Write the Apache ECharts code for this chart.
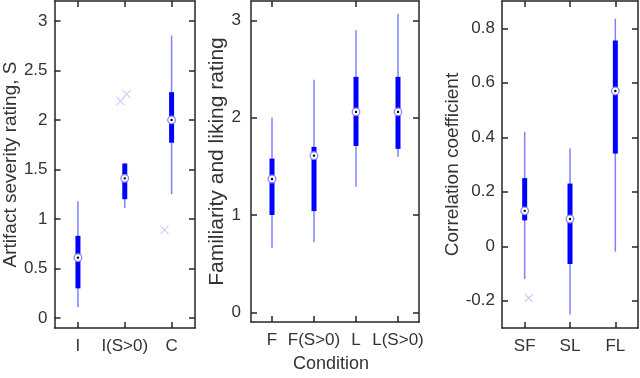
<!DOCTYPE html>
<html lang="en">
<head>
    <meta charset="UTF-8">
    <title>Boxplots</title>
    <script src="https://cdn.jsdelivr.net/npm/echarts@6/dist/echarts.min.js"></script>
    <style>
        html, body { margin: 0; padding: 0; background: #fff; }
    </style>
</head>
<body>
    <div id="myCharts" style="width: 640px;height:378px;"></div>

    <script type="text/javascript">
        // panel 1: artifact severity
        var cats1 = ['I', 'I(S>0)', 'C']
        var low1 = [0.11, 1.11, 1.25]
        var q1a = [0.30, 1.20, 1.77]
        var med1 = [0.61, 1.41, 2.00]
        var q3a = [0.83, 1.56, 2.28]
        var high1 = [1.18, 1.56, 2.85]
        var out1 = [[0.91, 2.19], [1.04, 2.26], [1.85, 0.89]]
        var ticks1 = [0, 0.5, 1, 1.5, 2, 2.5, 3]

        // panel 2: familiarity / liking
        var cats2 = ['F', 'F(S>0)', 'L', 'L(S>0)']
        var low2 = [0.66, 0.72, 1.29, 1.60]
        var q1b = [1.00, 1.04, 1.71, 1.68]
        var med2 = [1.37, 1.61, 2.06, 2.06]
        var q3b = [1.58, 1.70, 2.42, 2.42]
        var high2 = [2.00, 2.39, 2.90, 3.07]
        var ticks2 = [0, 1, 2, 3]

        // panel 3: correlation
        var cats3 = ['SF', 'SL', 'FL']
        var low3 = [-0.12, -0.25, -0.02]
        var q1c = [0.095, -0.065, 0.34]
        var med3 = [0.13, 0.10, 0.57]
        var q3c = [0.25, 0.23, 0.755]
        var high3 = [0.42, 0.36, 0.835]
        var out3 = [[0.09, -0.19]]
        var ticks3 = [-0.2, 0, 0.2, 0.4, 0.6, 0.8]

        var txt = '#333'
        var font = 'Liberation Sans'
        var lineCol = '#262626'

        function rows(low, q1, med, q3, high) {
            return low.map(function (v, i) {
                return [i, v, q1[i], med[i], q3[i], high[i]]
            })
        }

        function renderBox(params, api) {
            var x = api.value(0)
            var pLow = api.coord([x, api.value(1)])
            var pQ1 = api.coord([x, api.value(2)])
            var pMed = api.coord([x, api.value(3)])
            var pQ3 = api.coord([x, api.value(4)])
            var pHigh = api.coord([x, api.value(5)])
            return {
                type: 'group',
                children: [
                    {
                        type: 'line',
                        shape: { x1: pLow[0], y1: pLow[1], x2: pHigh[0], y2: pHigh[1] },
                        style: { stroke: '#8080ff', lineWidth: 1.5 }
                    },
                    {
                        type: 'rect',
                        shape: { x: pQ1[0] - 2.5, y: pQ3[1], width: 5, height: pQ1[1] - pQ3[1] },
                        style: { fill: '#0000ff' }
                    },
                    {
                        type: 'circle',
                        shape: { cx: pMed[0], cy: pMed[1], r: 3.8 },
                        style: { fill: '#fff', stroke: '#8a8aff', lineWidth: 1.3 }
                    },
                    {
                        type: 'circle',
                        shape: { cx: pMed[0], cy: pMed[1], r: 1.2 },
                        style: { fill: '#000' }
                    }
                ]
            }
        }

        function yAxes(grid, min, max, ticks, margin, name, nameGap, nameSize) {
            var base = {
                type: 'value',
                gridIndex: grid,
                min: min,
                max: max,
                splitLine: { show: false },
                axisLine: { show: true, onZero: false, lineStyle: { color: lineCol, width: 1.5 } },
                axisTick: { show: true, inside: true, length: 6, customValues: ticks, lineStyle: { color: lineCol, width: 1.5 } }
            }
            var left = Object.assign({}, base, {
                position: 'left',
                name: name,
                nameLocation: 'middle',
                nameGap: nameGap,
                nameTextStyle: { color: txt, fontFamily: font, fontSize: nameSize },
                axisLabel: { show: true, customValues: ticks, margin: margin, color: txt, fontFamily: font, fontSize: 17 }
            })
            var right = Object.assign({}, base, {
                position: 'right',
                axisLabel: { show: false }
            })
            return [left, right]
        }

        function xAxes(grid, cats, n, name) {
            var bottom = {
                type: 'category',
                gridIndex: grid,
                data: cats,
                position: 'bottom',
                axisLine: { show: true, onZero: false, lineStyle: { color: lineCol, width: 1.5 } },
                axisTick: { show: true, inside: true, alignWithLabel: true, length: 6, lineStyle: { color: lineCol, width: 1.5 } },
                axisLabel: { margin: 10, color: txt, fontFamily: font, fontSize: 17, interval: 0 }
            }
            if (name) {
                bottom.name = name
                bottom.nameLocation = 'middle'
                bottom.nameGap = 33
                bottom.nameTextStyle = { color: txt, fontFamily: font, fontSize: 18, padding: [0, 8, 0, 0] }
            }
            var top = {
                type: 'category',
                gridIndex: grid,
                data: cats,
                position: 'top',
                axisLine: { show: true, onZero: false, lineStyle: { color: lineCol, width: 1.5 } },
                axisTick: { show: true, inside: true, alignWithLabel: true, length: 6, lineStyle: { color: lineCol, width: 1.5 } },
                axisLabel: { show: false }
            }
            // hidden numeric axis for the jittered outlier marks
            var hidden = {
                type: 'value',
                gridIndex: grid,
                min: -0.5,
                max: n - 0.5,
                show: false,
                axisLine: { onZero: false }
            }
            return [bottom, top, hidden]
        }

        var crossPath = 'path://M0,0L10,10M10,0L0,10'

        var myChart = echarts.init(document.getElementById('myCharts'))

        var option = {
            animation: false,
            grid: [
                { left: 52, right: 445, top: 1, bottom: 50 },
                { left: 251, right: 221, top: 1, bottom: 50 },
                { left: 502, right: 2, top: 1, bottom: 50 }
            ],
            xAxis: [].concat(
                xAxes(0, cats1, cats1.length),
                xAxes(1, cats2, cats2.length, 'Condition'),
                xAxes(2, cats3, cats3.length)
            ),
            yAxis: [].concat(
                yAxes(0, -0.1, 3.2, ticks1, 7, 'Artifact severity rating, S', 34, 19),
                yAxes(1, -0.1, 3.2, ticks2, 10, 'Familiarity and liking rating', 19, 21),
                yAxes(2, -0.3, 0.9, ticks3, 7, 'Correlation coefficient', 40, 19)
            ),
            series: [
                { type: 'custom', xAxisIndex: 0, yAxisIndex: 0, renderItem: renderBox, data: rows(low1, q1a, med1, q3a, high1), encode: { x: 0, y: [1, 5] } },
                { type: 'custom', xAxisIndex: 3, yAxisIndex: 2, renderItem: renderBox, data: rows(low2, q1b, med2, q3b, high2), encode: { x: 0, y: [1, 5] } },
                { type: 'custom', xAxisIndex: 6, yAxisIndex: 4, renderItem: renderBox, data: rows(low3, q1c, med3, q3c, high3), encode: { x: 0, y: [1, 5] } },
                {
                    type: 'scatter', xAxisIndex: 2, yAxisIndex: 0, data: out1,
                    symbol: crossPath, symbolSize: 8,
                    itemStyle: { color: 'none', borderColor: '#c0c0ff', borderWidth: 1.2 }
                },
                {
                    type: 'scatter', xAxisIndex: 8, yAxisIndex: 4, data: out3,
                    symbol: crossPath, symbolSize: 8,
                    itemStyle: { color: 'none', borderColor: '#c0c0ff', borderWidth: 1.2 }
                }
            ]
        }

        myChart.setOption(option)
    </script>
</body>
</html>
